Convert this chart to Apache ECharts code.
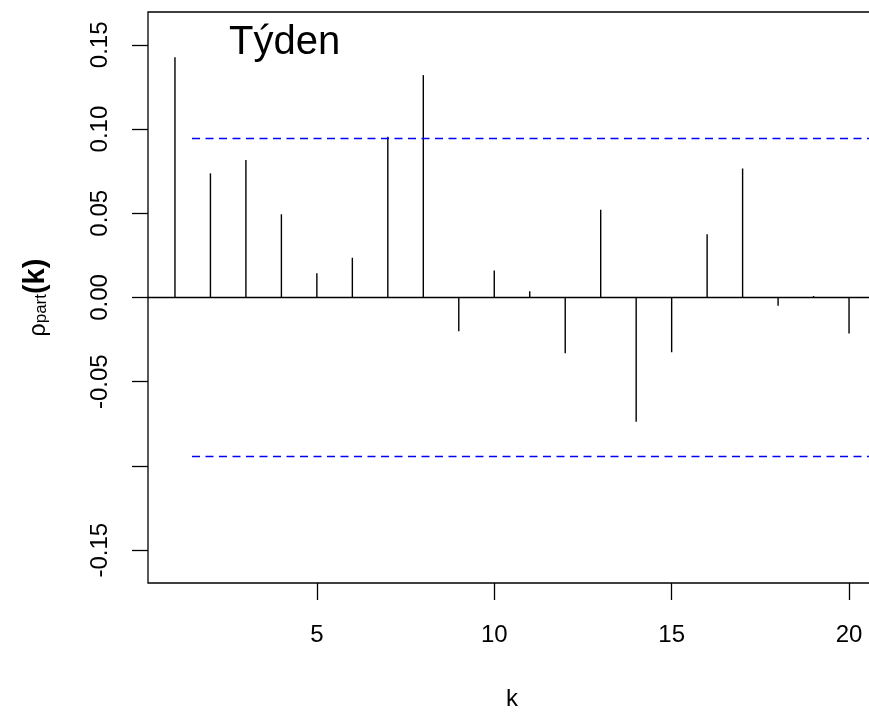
<!DOCTYPE html>
<html>
<head>
<meta charset="utf-8">
<script src="https://cdn.jsdelivr.net/npm/echarts@6/dist/echarts.min.js"></script>
<style>
html,body{margin:0;padding:0;background:#fff;}
#chart{width:869px;height:713px;}
</style>
</head>
<body>
<div id="chart"></div>
<script>
var lags = [1,2,3,4,5,6,7,8,9,10,11,12,13,14,15,16,17,18,19,20];
var pacfValues = [0.1426,0.0737,0.0817,0.0494,0.0144,0.0236,0.0955,0.1320,-0.0200,0.0160,0.0037,-0.0331,0.0521,-0.0737,-0.0325,0.0376,0.0766,-0.0049,0.0009,-0.0213];
var confLimit = 0.0944;
var xTicks = [5,10,15,20];
var yTicks = [-0.15,-0.10,-0.05,0,0.05,0.10,0.15];
var yLabelTicks = [-0.15,-0.05,0,0.05,0.10,0.15];
var titleText = 'Týden';

var FONT = '"Liberation Sans", Arial, sans-serif';
var chart = echarts.init(document.getElementById('chart'), null, {renderer:'canvas'});
var xMin = 0.24, xMax = 20.76, yMin = -0.1695, yMax = 0.1695;

var option = {
  backgroundColor:'#ffffff',
  animation:false,
  title:{
    text:titleText, left:229, top:23, padding:0,
    textStyle:{fontFamily:FONT, fontSize:40, fontWeight:'normal', color:'#000'}
  },
  grid:{
    left:148, top:12, width:728, height:571,
    show:true, borderColor:'#000', borderWidth:1.3, backgroundColor:'transparent',
    containLabel:false, outerBoundsMode:'none'
  },
  xAxis:{
    type:'value', min:xMin, max:xMax,
    name:'k', nameLocation:'middle', nameGap:104,
    nameTextStyle:{fontFamily:FONT, fontSize:24, color:'#000'},
    axisLine:{show:false, onZero:false},
    splitLine:{show:false},
    axisTick:{show:true, inside:false, length:17, lineStyle:{color:'#000', width:1.3}, customValues:xTicks},
    axisLabel:{show:true, margin:40, fontFamily:FONT, fontSize:24, color:'#000', customValues:xTicks, formatter:function(v){return String(v);}}
  },
  yAxis:{
    type:'value', min:yMin, max:yMax,
    name:'{rho|ρ}{sub|part}{k|(k)}', nameLocation:'middle', nameGap:98, nameRotate:90,
    nameTextStyle:{
      fontFamily:FONT, color:'#000',
      rich:{
        rho:{fontFamily:FONT, fontSize:23, color:'#000', verticalAlign:'bottom'},
        sub:{fontFamily:FONT, fontSize:17, color:'#000', verticalAlign:'bottom', padding:[12,0,0,0]},
        k:{fontFamily:FONT, fontSize:29, fontWeight:'bold', color:'#000', verticalAlign:'bottom'}
      }
    },
    axisLine:{show:false, onZero:false},
    splitLine:{show:false},
    axisTick:{show:true, inside:false, length:16, lineStyle:{color:'#000', width:1.3}, customValues:yTicks},
    axisLabel:{show:true, rotate:90, margin:36, fontFamily:FONT, fontSize:24, color:'#000', customValues:yLabelTicks,
      formatter:function(v){return v.toFixed(2);}}
  },
  series:[
    {
      type:'bar',
      data:lags.map(function(k,i){return [k,pacfValues[i]];}),
      barWidth:1.4,
      itemStyle:{color:'#000'},
      silent:true,
      markLine:{
        silent:true, symbol:'none', label:{show:false}, animation:false,
        data:[
          [{coord:[xMin,0]},{coord:[xMax,0]}]
        ],
        lineStyle:{color:'#000', width:1.3, type:'solid'}
      }
    },
    {
      type:'line', data:[], silent:true,
      markLine:{
        silent:true, symbol:'none', label:{show:false}, animation:false,
        lineStyle:{color:'#0000ff', width:1.3, type:[8,5.5]},
        data:[
          [{coord:[1.48,confLimit]},{coord:[xMax,confLimit]}],
          [{coord:[1.48,-confLimit]},{coord:[xMax,-confLimit]}]
        ]
      }
    }
  ]
};
chart.setOption(option);
</script>
</body>
</html>
